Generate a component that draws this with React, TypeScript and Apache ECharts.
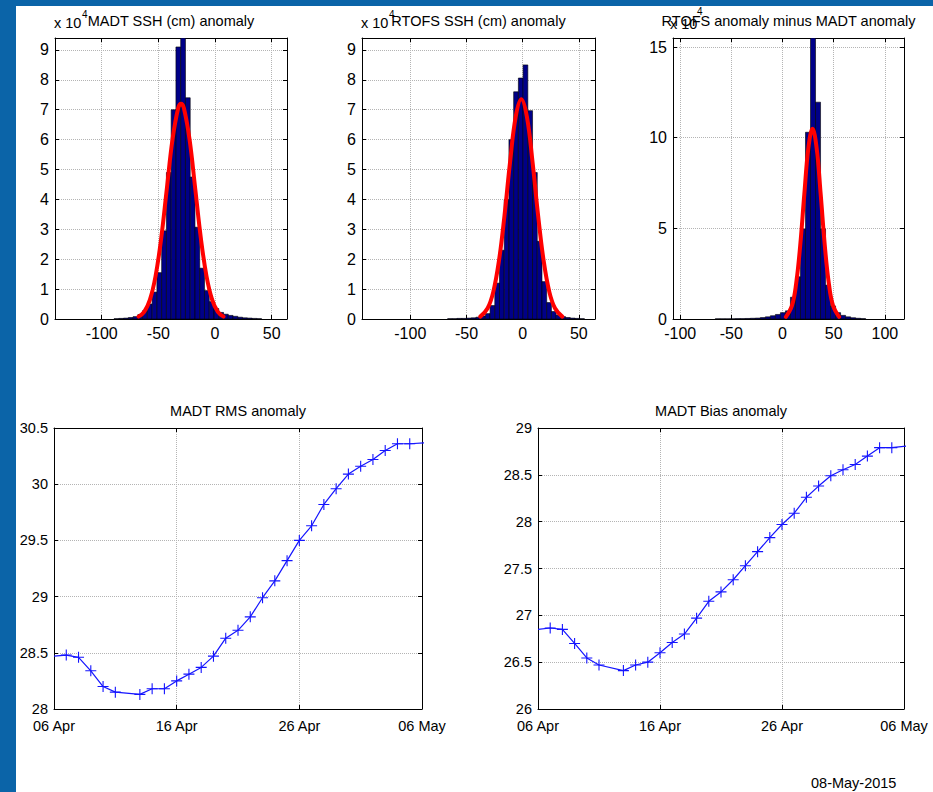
import React, { useEffect, useRef } from "react";
import * as echarts from "echarts";

const FONT = "'Liberation Sans', Arial, Helvetica, sans-serif";

// ---------- Histogram 1: MADT SSH (cm) anomaly (counts x 10^4) ----------
const madtBinWidth = 4.2;
const madtBinCenters = [
  -87.0, -82.8, -78.6, -74.4, -70.2, -66.0, -61.8, -57.6, -53.4, -49.2, -45.0,
  -40.8, -36.6, -32.4, -28.2, -24.0, -19.8, -15.6, -11.4, -7.2, -3.0, 1.2, 5.4,
  9.6, 13.8, 18.0, 22.2, 26.4, 30.6, 34.8, 39.0,
];
const madtCounts = [
  0.01, 0.02, 0.03, 0.05, 0.08, 0.15, 0.28, 0.5, 0.9, 1.55, 2.95, 4.9, 7.0, 9.1,
  9.4, 7.4, 4.75, 3.07, 1.7, 0.95, 0.58, 0.35, 0.22, 0.16, 0.12, 0.09, 0.06, 0.04,
  0.03, 0.02, 0.01,
];
const madtFitX = [-67.5, -62.5, -57.5, -52.5, -47.5, -42.5, -37.5, -32.5, -30, -27.5, -22.5, -17.5, -12.5, -7.5, -2.5, 2.5, 7.5];
const madtFitY = [0.08, 0.24, 0.64, 1.43, 2.7, 4.37, 6.01, 7.06, 7.2, 7.06, 6.01, 4.37, 2.7, 1.43, 0.64, 0.24, 0.08];

// ---------- Histogram 2: RTOFS SSH (cm) anomaly ----------
const rtofsBinWidth = 4.2;
const rtofsBinCenters = [
  -64.7, -60.5, -56.3, -52.1, -47.9, -43.7, -39.5, -35.3, -31.1, -26.9, -22.7,
  -18.5, -14.3, -10.1, -5.9, -1.7, 2.5, 6.7, 10.9, 15.1, 19.3, 23.5, 27.7, 31.9,
  36.1, 40.3, 44.5, 48.7, 52.9,
];
const rtofsCounts = [
  0.01, 0.01, 0.02, 0.02, 0.03, 0.04, 0.06, 0.1, 0.18, 0.45, 1.2, 2.3, 4.0, 6.0,
  7.6, 8.06, 8.5, 6.97, 4.9, 2.6, 1.25, 0.55, 0.25, 0.13, 0.08, 0.05, 0.03, 0.02,
  0.01,
];
const rtofsFitX = [-37.7, -31.2, -26.2, -21.2, -16.2, -11.2, -6.2, -1.2, 3.8, 8.8, 13.8, 18.8, 23.8, 28.8, 35.3];
const rtofsFitY = [0.08, 0.36, 0.9, 1.92, 3.45, 5.25, 6.76, 7.35, 6.76, 5.25, 3.45, 1.92, 0.9, 0.36, 0.08];

// ---------- Histogram 3: RTOFS anomaly minus MADT anomaly ----------
const diffBinWidth = 4.9;
const diffBinCenters = [
  -63.3, -58.4, -53.5, -48.6, -43.7, -38.8, -33.9, -29.0, -24.1, -19.2, -14.3,
  -9.4, -4.5, 0.4, 5.3, 10.2, 15.1, 20.0, 24.9, 29.8, 34.7, 39.6, 44.5, 49.4,
  54.3, 59.2, 64.1, 69.0, 73.9, 78.8,
];
const diffCounts = [
  0.01, 0.01, 0.01, 0.01, 0.02, 0.02, 0.03, 0.04, 0.05, 0.08, 0.12, 0.18, 0.25,
  0.35, 0.45, 1.2, 2.33, 4.97, 10.3, 15.5, 11.96, 4.97, 1.87, 0.72, 0.35, 0.2,
  0.12, 0.07, 0.04, 0.02,
];
const diffFitX = [3.3, 9.3, 13.3, 17.3, 21.3, 25.3, 29.3, 33.3, 37.3, 41.3, 45.3, 49.3, 55.3];
const diffFitY = [0.12, 0.75, 1.94, 4.06, 6.88, 9.45, 10.5, 9.45, 6.88, 4.06, 1.94, 0.75, 0.12];

// ---------- Time series (days since 06 Apr) ----------
const dayOffsets = [0, 1, 2, 3, 4, 5, 7, 8, 9, 10, 11, 12, 13, 14, 15, 16, 17, 18, 19, 20, 21, 22, 23, 24, 25, 26, 27, 28, 29, 30.4];
const rmsValues = [
  28.47, 28.48, 28.46, 28.34, 28.2, 28.15, 28.13, 28.18, 28.18, 28.25, 28.31,
  28.37, 28.47, 28.63, 28.7, 28.82, 28.99, 29.14, 29.32, 29.5, 29.63, 29.82,
  29.96, 30.09, 30.16, 30.22, 30.3, 30.36, 30.36, 30.37,
];
const biasValues = [
  26.85, 26.865, 26.85, 26.7, 26.545, 26.47, 26.41, 26.47, 26.5, 26.6, 26.71,
  26.8, 26.97, 27.15, 27.25, 27.38, 27.53, 27.68, 27.83, 27.97, 28.09, 28.26,
  28.38, 28.49, 28.555, 28.61, 28.7, 28.79, 28.79, 28.81,
];
const dateTickLabels = ["06 Apr", "16 Apr", "26 Apr", "06 May"];

const titles = [
  "MADT SSH (cm) anomaly",
  "RTOFS SSH (cm) anomaly",
  "RTOFS anomaly minus MADT anomaly",
  "MADT RMS anomaly",
  "MADT Bias anomaly",
];
const stampText = "08-May-2015";

const PLUS = "path://M4.5,0H5.5V4.5H10V5.5H5.5V10H4.5V5.5H0V4.5H4.5Z";

const grids = [
  { left: 55, top: 38, width: 232, height: 281 },
  { left: 362, top: 38, width: 233, height: 281 },
  { left: 673, top: 38, width: 231, height: 281 },
  { left: 54, top: 428, width: 368, height: 281 },
  { left: 538, top: 428, width: 366, height: 281 },
];

function buildAxes(
  gi: number,
  xr: number[],
  yr: number[],
  xInterval: number | null,
  yInterval: number,
  xFmt: (v: number) => string,
  yFmt: (v: number) => string,
  fontSize: number,
  xMargin: number
) {
  const line = { show: true, onZero: false, lineStyle: { color: "#000", width: 1 } };
  const tick = { show: true, inside: true, length: 4, lineStyle: { color: "#000", width: 1 } };
  const split = { show: true, lineStyle: { color: "#b4b4b4", width: 1, type: "dotted" } };
  const xSpacing = xInterval ? { interval: xInterval } : { splitNumber: 5 };
  const lbl = { color: "#000", fontSize, fontFamily: FONT };
  const xBottom = {
    type: "value", gridIndex: gi, position: "bottom", min: xr[0], max: xr[1], ...xSpacing,
    axisLine: line, axisTick: tick, splitLine: split,
    axisLabel: { ...lbl, margin: xMargin, formatter: xFmt },
  };
  const xTop = {
    type: "value", gridIndex: gi, position: "top", min: xr[0], max: xr[1], ...xSpacing,
    axisLine: line, axisTick: tick, splitLine: { show: false }, axisLabel: { show: false },
  };
  const yLeft = {
    type: "value", gridIndex: gi, position: "left", min: yr[0], max: yr[1], interval: yInterval,
    axisLine: line, axisTick: tick, splitLine: split,
    axisLabel: { ...lbl, margin: 6, formatter: yFmt },
  };
  const yRight = {
    type: "value", gridIndex: gi, position: "right", min: yr[0], max: yr[1], interval: yInterval,
    axisLine: line, axisTick: tick, splitLine: { show: false }, axisLabel: { show: false },
  };
  return { xBottom, xTop, yLeft, yRight };
}

const histFmtX = (v: number) => (Math.abs(v % 50) < 1e-9 ? String(v) : "");
const intFmt = (v: number) => (Math.abs(v - Math.round(v)) < 1e-9 ? String(Math.round(v)) : "");
const fiveFmt = (v: number) => (Math.abs(v % 5) < 1e-9 ? String(v) : "");
const dateFmt = (v: number) => {
  const i = Math.round(v / 10);
  return Math.abs(v - i * 10) < 1e-9 && dateTickLabels[i] ? dateTickLabels[i] : "";
};
const halfFmt = (v: number) => String(Math.round(v * 10) / 10);

function histSeries(gi: number, centers: number[], counts: number[], w: number) {
  return {
    type: "custom",
    xAxisIndex: gi,
    yAxisIndex: gi,
    z: 2,
    clip: true,
    data: centers.map((c, j) => [c, counts[j]]),
    renderItem: (_p: any, api: any) => {
      const c = api.value(0);
      const h = api.value(1);
      const p0 = api.coord([c - w / 2, h]);
      const p1 = api.coord([c + w / 2, 0]);
      return {
        type: "rect",
        shape: { x: p0[0], y: p0[1], width: p1[0] - p0[0], height: p1[1] - p0[1] },
        style: { fill: "#000088", stroke: "#000", lineWidth: 0.6 },
      };
    },
  };
}

function fitSeries(gi: number, xs: number[], ys: number[]) {
  return {
    type: "line",
    xAxisIndex: gi,
    yAxisIndex: gi,
    z: 4,
    smooth: 0.4,
    showSymbol: false,
    symbol: "none",
    data: xs.map((x, j) => [x, ys[j]]),
    lineStyle: { color: "#ff0000", width: 4, cap: "round" },
  };
}

function timeSeries(gi: number, ys: number[]) {
  const last = dayOffsets.length - 1;
  return {
    type: "line",
    xAxisIndex: gi,
    yAxisIndex: gi,
    z: 4,
    clip: false,
    symbol: PLUS,
    symbolSize: 11,
    data: dayOffsets.map((d, j) =>
      j === 0 || j === last ? { value: [d, ys[j]], symbol: "none" } : [d, ys[j]]
    ),
    itemStyle: { color: "#1414ff" },
    lineStyle: { color: "#1414ff", width: 1.2 },
  };
}

export default function App() {
  const ref = useRef<HTMLDivElement>(null);

  useEffect(() => {
    if (!ref.current) return;
    const chart = echarts.init(ref.current, null, { renderer: "svg" });

    const a = [
      buildAxes(0, [-141.2, 63.5], [0, 9.4], null, 1, histFmtX, intFmt, 16, 6),
      buildAxes(1, [-143, 64.4], [0, 9.4], null, 1, histFmtX, intFmt, 16, 6),
      buildAxes(2, [-107, 118.7], [0, 15.5], null, 5, histFmtX, fiveFmt, 16, 6),
      buildAxes(3, [0, 30], [28, 30.5], 10, 0.5, dateFmt, halfFmt, 14.5, 9),
      buildAxes(4, [0, 30], [26, 29], 10, 0.5, dateFmt, halfFmt, 14.5, 9),
    ];

    const xAxis = [...a.map((v) => v.xBottom), ...a.map((v) => v.xTop)];
    const yAxis = [...a.map((v) => v.yLeft), ...a.map((v) => v.yRight)];

    const txt = (x: number, y: number, text: string, size: number, align = "center") => ({
      type: "text",
      x,
      y,
      z: 10,
      style: {
        text,
        fill: "#000",
        font: `${size}px ${FONT}`,
        textAlign: align,
        textVerticalAlign: "middle",
        align,
        verticalAlign: "middle",
      },
    });

    const graphic = [
      { type: "rect", shape: { x: 0, y: 0, width: 16, height: 792 }, style: { fill: "#0b64a8" }, z: 1 },
      { type: "rect", shape: { x: 0, y: 0, width: 933, height: 6 }, style: { fill: "#0b64a8" }, z: 1 },
      txt(grids[0].left + grids[0].width / 2, 21, titles[0], 14.5),
      txt(grids[1].left + grids[1].width / 2, 21, titles[1], 14.5),
      txt(grids[2].left + grids[2].width / 2, 21, titles[2], 14.5),
      txt(grids[3].left + grids[3].width / 2, 411, titles[3], 14.5),
      txt(grids[4].left + grids[4].width / 2, 411, titles[4], 14.5),
      txt(54, 23, "x 10", 14.5, "left"),
      txt(82, 14, "4", 10, "left"),
      txt(361, 23, "x 10", 14.5, "left"),
      txt(389, 14, "4", 10, "left"),
      txt(670, 24, "x 10", 14.5, "left"),
      txt(697, 11, "4", 10, "left"),
      txt(811, 783, stampText, 14.5, "left"),
    ];

    chart.setOption({
      animation: false,
      backgroundColor: "#ffffff",
      grid: grids.map((g) => ({ ...g, containLabel: false })),
      xAxis,
      yAxis,
      graphic,
      series: [
        histSeries(0, madtBinCenters, madtCounts, madtBinWidth),
        fitSeries(0, madtFitX, madtFitY),
        histSeries(1, rtofsBinCenters, rtofsCounts, rtofsBinWidth),
        fitSeries(1, rtofsFitX, rtofsFitY),
        histSeries(2, diffBinCenters, diffCounts, diffBinWidth),
        fitSeries(2, diffFitX, diffFitY),
        timeSeries(3, rmsValues),
        timeSeries(4, biasValues),
      ],
    });

    return () => chart.dispose();
  }, []);

  return (
    <div
      ref={ref}
      style={{ position: "absolute", left: 0, top: 0, width: 933, height: 792 }}
    />
  );
}
